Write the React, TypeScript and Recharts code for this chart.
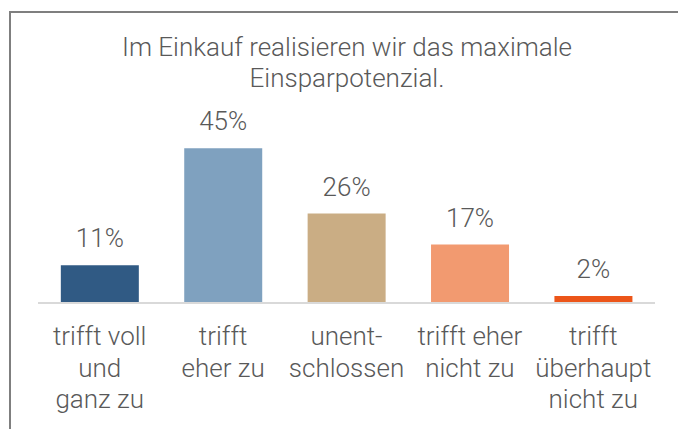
import { BarChart, Bar, XAxis, YAxis, Cell, LabelList } from "recharts";

const categories = [
  "trifft voll\nund\nganz zu",
  "trifft\neher zu",
  "unent-\nschlossen",
  "trifft eher\nnicht zu",
  "trifft\nüberhaupt\nnicht zu",
];
const values = [11, 45, 26, 17, 2];
const colors = ["#305a84", "#7fa1bf", "#caad84", "#f29a70", "#ec5519"];
const titleLines = ["Im Einkauf realisieren wir das maximale", "Einsparpotenzial."];

const data = categories.map((name, i) => ({ name, value: values[i] }));

const FONT = "Roboto, sans-serif";
const TEXT = "#595959";

function CategoryTick(props: any) {
  const { x, y, payload } = props;
  const lines = String(payload.value).split("\n");
  return (
    <text
      x={x}
      y={y + 42}
      textAnchor="middle"
      fill={TEXT}
      fontFamily={FONT}
      fontWeight={300}
      fontSize={26}
    >
      {lines.map((l, i) => (
        <tspan key={i} x={x} dy={i === 0 ? 0 : 31.5}>
          {l}
        </tspan>
      ))}
    </text>
  );
}

function ValueLabel(props: any) {
  const { x, y, width, value } = props;
  return (
    <text
      x={x + width / 2}
      y={y - 18}
      textAnchor="middle"
      fill={TEXT}
      fontFamily={FONT}
      fontWeight={300}
      fontSize={26}
    >
      {value}%
    </text>
  );
}

export default function App() {
  return (
    <div
      style={{
        position: "absolute",
        left: 0,
        top: 0,
        width: 678,
        height: 429,
        overflow: "hidden",
        background: "#fff",
      }}
    >
      <div
        style={{
          position: "absolute",
          left: 9,
          top: 11,
          width: 800,
          height: 600,
          borderTop: "2px solid #7f7f7f",
          borderLeft: "2px solid #7f7f7f",
        }}
      />
      <div
        style={{
          position: "absolute",
          left: 0,
          top: 32,
          width: 694,
          textAlign: "center",
          fontFamily: FONT,
          fontWeight: 300,
          fontSize: 26,
          lineHeight: "31px",
          color: TEXT,
        }}
      >
        {titleLines.map((t) => (
          <div key={t}>{t}</div>
        ))}
      </div>
      <div style={{ position: "absolute", left: 0, top: 0 }}>
        <BarChart
          width={678}
          height={429}
          data={data}
          margin={{ top: 131, right: 23, left: 38, bottom: 0 }}
          barCategoryGap="18.5%"
        >
          <XAxis
            dataKey="name"
            height={126}
            interval={0}
            tickLine={false}
            tickSize={0}
            tickMargin={0}
            axisLine={{ stroke: "#d9d9d9", strokeWidth: 2 }}
            tick={<CategoryTick />}
          />
          <YAxis hide domain={[0, 50]} />
          <Bar dataKey="value" isAnimationActive={false}>
            {data.map((d, i) => (
              <Cell key={d.name} fill={colors[i]} />
            ))}
            <LabelList dataKey="value" content={<ValueLabel />} />
          </Bar>
        </BarChart>
      </div>
    </div>
  );
}
